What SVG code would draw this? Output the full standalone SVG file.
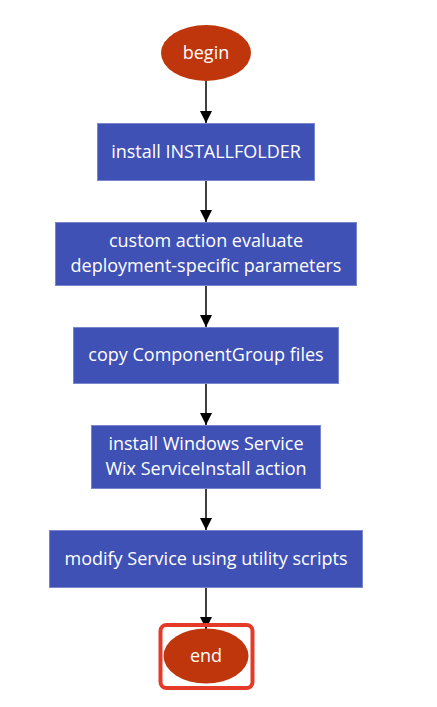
<svg xmlns="http://www.w3.org/2000/svg" width="437" height="707" viewBox="0 0 437 707">
<style>
.box{fill:#3f51b5;stroke:#7986cb;stroke-width:1}
.term{fill:#bf360c;stroke:none}
.t{font-family:"Open Sans","Noto Sans",sans-serif;font-size:18px;fill:#ffffff;text-anchor:middle}
.edge{stroke:#000000;stroke-width:1.5;fill:none;marker-end:url(#arr)}
</style>
<defs>
<marker id="arr" viewBox="0 0 12 16" refX="12" refY="8" markerWidth="12" markerHeight="16" markerUnits="userSpaceOnUse" orient="auto">
<path d="M0,2 L12,8 L0,14 z" fill="#000000"/>
</marker>
</defs>
<rect width="437" height="707" fill="#ffffff"/>
<g id="connectors">
<line class="edge" x1="206" y1="81" x2="206" y2="123"/>
<line class="edge" x1="206" y1="181" x2="206" y2="222"/>
<line class="edge" x1="206" y1="285" x2="206" y2="327"/>
<line class="edge" x1="206" y1="383" x2="206" y2="425"/>
<line class="edge" x1="206" y1="488" x2="206" y2="530"/>
<line class="edge" x1="206" y1="587" x2="206" y2="629"/>
</g>
<g id="begin">
<ellipse class="term" cx="206" cy="53" rx="45" ry="28"/>
<text class="t" x="206" y="58.5">begin</text>
</g>
<g id="n1">
<rect class="box" x="97.5" y="123.5" width="217" height="57"/>
<text class="t" x="206" y="158">install INSTALLFOLDER</text>
</g>
<g id="n2">
<rect class="box" x="55.5" y="222.5" width="301" height="63"/>
<text class="t" x="206" y="247"><tspan x="206" y="247">custom action evaluate</tspan><tspan x="206" y="271.5">deployment-specific parameters</tspan></text>
</g>
<g id="n3">
<rect class="box" x="73.5" y="327.5" width="265" height="56"/>
<text class="t" x="206" y="361">copy ComponentGroup files</text>
</g>
<g id="n4">
<rect class="box" x="91.5" y="425.5" width="229" height="63"/>
<text class="t" x="206" y="450"><tspan x="206" y="450">install Windows Service</tspan><tspan x="206" y="474.5">Wix ServiceInstall action</tspan></text>
</g>
<g id="n5">
<rect class="box" x="49.5" y="530.5" width="313" height="57"/>
<text class="t" x="206" y="564.5">modify Service using utility scripts</text>
</g>
<g id="end">
<rect x="160.5" y="625" width="92" height="63" rx="6" ry="6" fill="none" stroke="#e53a2a" stroke-width="4"/>
<ellipse class="term" cx="206" cy="656" rx="42.5" ry="27.5"/>
<text class="t" x="206" y="662">end</text>
</g>
</svg>
